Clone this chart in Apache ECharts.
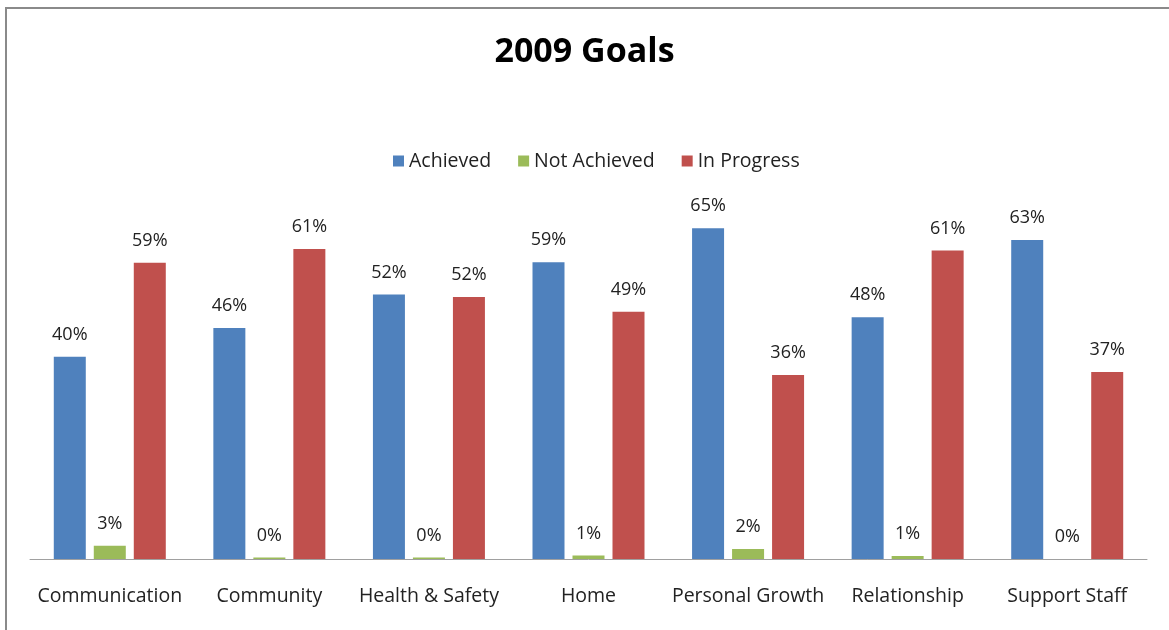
<!DOCTYPE html>
<html>
<head>
<meta charset="utf-8">
<script src="https://cdn.jsdelivr.net/npm/echarts@6/dist/echarts.min.js"></script>
<style>
  html, body { margin: 0; padding: 0; background: #fff; }
  #chart { width: 1169px; height: 630px; }
</style>
</head>
<body>
<div id="chart"></div>
<script>
// 2009 goals, percent per category
const categories = ['Communication', 'Community', 'Health & Safety', 'Home', 'Personal Growth', 'Relationship', 'Support Staff'];
const achieved = [40.0, 45.7, 52.3, 58.7, 65.4, 47.8, 63.1];
const notAchieved = [2.6, 0.3, 0.3, 0.7, 2.0, 0.6, 0];
const inProgress = [58.6, 61.3, 51.8, 48.9, 36.4, 61.0, 37.0];

const FONT = 'Open Sans';

const chart = echarts.init(document.getElementById('chart'), null, { renderer: 'canvas' });

const barLabel = {
    show: true,
    position: 'top',
    distance: 13,
    fontFamily: FONT,
    fontSize: 18,
    color: '#222',
    formatter: p => Math.round(p.value) + '%'
};

const makeSeries = (name, data, color) => ({
    name,
    type: 'bar',
    data,
    barWidth: 32,
    barGap: '25%',
    itemStyle: { color },
    label: barLabel,
    emphasis: { disabled: true }
});

chart.setOption({
    animation: false,
    title: {
        text: '2009 Goals',
        left: 'center',
        top: 30,
        textStyle: { fontFamily: FONT, fontSize: 34, fontWeight: 'bold', color: '#000' }
    },
    legend: {
        top: 146,
        left: 388,
        itemWidth: 11,
        itemHeight: 11,
        itemGap: 27,
        icon: 'rect',
        textStyle: { fontFamily: FONT, fontSize: 19.5, color: '#222' }
    },
    grid: { left: 30, right: 22, top: 205, bottom: 71 },
    xAxis: {
        type: 'category',
        data: categories,
        axisLine: { lineStyle: { color: '#a0a0a0', width: 1 } },
        axisTick: { show: false },
        axisLabel: { interval: 0, margin: 27, fontFamily: FONT, fontSize: 19.5, color: '#222' }
    },
    yAxis: {
        type: 'value',
        min: 0,
        max: 70,
        show: false,
        splitLine: { show: false }
    },
    graphic: [{
        type: 'rect',
        shape: { x: 6, y: 8, width: 1200, height: 700 },
        style: { fill: 'none', stroke: '#8a8a8a', lineWidth: 2 },
        silent: true
    }],
    series: [
        makeSeries('Achieved', achieved, '#4F81BD'),
        makeSeries('Not Achieved', notAchieved, '#9BBB59'),
        makeSeries('In Progress', inProgress, '#C0504D')
    ]
});
</script>
</body>
</html>
